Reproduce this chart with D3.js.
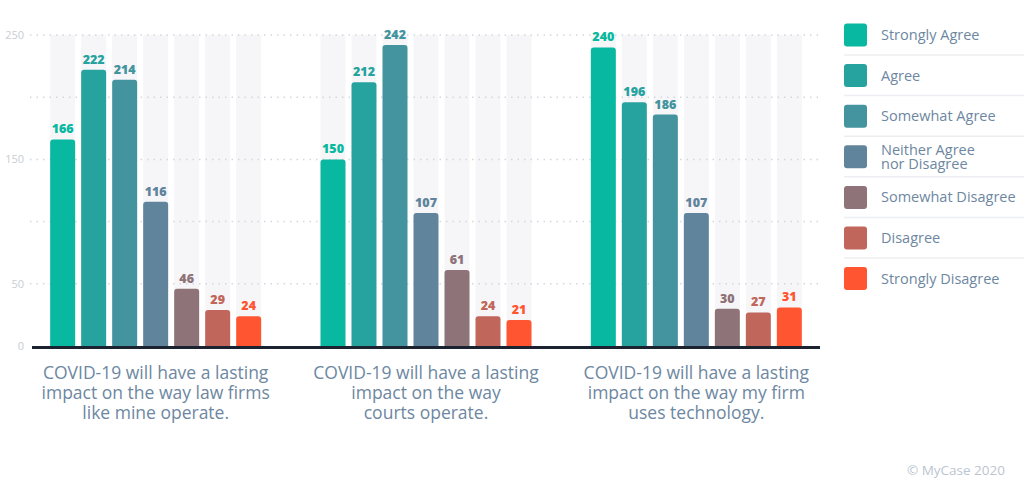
<!DOCTYPE html>
<html><head><meta charset="utf-8">
<script src="https://cdn.jsdelivr.net/npm/d3@7"></script>
<style>body{margin:0;background:#fff;} svg{display:block;}</style>
</head><body>
<svg id="c" width="1024" height="486"></svg>
<script>
const groups = [
  ["COVID-19 will have a lasting", "impact on the way law firms", "like mine operate."],
  ["COVID-19 will have a lasting", "impact on the way", "courts operate."],
  ["COVID-19 will have a lasting", "impact on the way my firm", "uses technology."]
];
const series = ["Strongly Agree","Agree","Somewhat Agree","Neither Agree nor Disagree","Somewhat Disagree","Disagree","Strongly Disagree"];
const legendLines = [["Strongly Agree"],["Agree"],["Somewhat Agree"],["Neither Agree","nor Disagree"],["Somewhat Disagree"],["Disagree"],["Strongly Disagree"]];
const valuesLawFirms = [166,222,214,116,46,29,24];
const valuesCourts = [150,212,242,107,61,24,21];
const valuesTech = [240,196,186,107,30,27,31];
const colors = ["#08b8a0","#27a39f","#43949e","#5f849c","#8e7378","#c0665a","#ff5530"];
const yTickLabels = [0,50,150,250];
const yGrid = [50,100,150,200,250];

const data = [valuesLawFirms, valuesCourts, valuesTech];
const svg = d3.select("#c");
const y = d3.scaleLinear().domain([0,250]).range([346,35]);
const x0 = d3.scaleBand().domain(d3.range(groups.length)).range([20.5,831.5]);
const x1 = d3.scaleBand().domain(series).range([0,211]).paddingInner(0.194).paddingOuter(0);
const off = (x0.bandwidth()-211)/2;
const color = d3.scaleOrdinal().domain(series).range(colors);

// stripes
groups.forEach((g,gi)=>{
  svg.append("g").selectAll("rect").data(series).join("rect")
    .attr("x", s=>x0(gi)+off+x1(s)).attr("width", x1.bandwidth())
    .attr("y", y(250)).attr("height", y(0)-y(250)).attr("fill","#f6f6f8");
});
// gridlines
svg.append("g").selectAll("line").data(yGrid).join("line")
  .attr("x1",30).attr("x2",820).attr("y1",d=>y(d)).attr("y2",d=>y(d))
  .attr("stroke","#d3d7dc").attr("stroke-width",1.5).attr("stroke-dasharray","1.5,5");
// y labels
svg.append("g").selectAll("text").data(yTickLabels).join("text")
  .attr("x",24).attr("y",d=>y(d)).attr("dy","0.35em").attr("text-anchor","end")
  .attr("font-family","Open Sans, sans-serif").attr("font-size",11).attr("fill","#c9cdd3").text(d=>d);

function barPath(x,yTop,w,h,r){
  r=Math.min(r,h);
  return `M${x},${yTop+h}V${yTop+r}Q${x},${yTop} ${x+r},${yTop}H${x+w-r}Q${x+w},${yTop} ${x+w},${yTop+r}V${yTop+h}Z`;
}
data.forEach((vals,gi)=>{
  const gg = svg.append("g");
  gg.selectAll("path").data(vals).join("path")
    .attr("d",(v,i)=>barPath(x0(gi)+off+x1(series[i]), y(v), x1.bandwidth(), y(0)-y(v), 3))
    .attr("fill",(v,i)=>color(series[i]));
  gg.selectAll("text").data(vals).join("text")
    .attr("x",(v,i)=>x0(gi)+off+x1(series[i])+x1.bandwidth()/2)
    .attr("y",v=>y(v)-6).attr("text-anchor","middle")
    .attr("font-family","Open Sans, sans-serif").attr("font-weight",800).attr("font-size",12.5)
    .attr("fill",(v,i)=>color(series[i])).text(v=>v);
  const t = svg.append("text").attr("text-anchor","middle")
    .attr("font-family","Open Sans, sans-serif").attr("font-size",17.5).attr("fill","#6d87a1");
  groups[gi].forEach((ln,li)=>{
    t.append("tspan").attr("x",x0(gi)+x0.bandwidth()/2).attr("y",379+li*20).text(ln);
  });
});
// baseline
svg.append("line").attr("x1",32).attr("x2",820).attr("y1",y(0)+1.5).attr("y2",y(0)+1.5)
  .attr("stroke","#1b2330").attr("stroke-width",3);

// legend
const lg = svg.append("g");
series.forEach((s,i)=>{
  const cy = 35 + i*40.6;
  lg.append("rect").attr("x",844).attr("y",cy-11.5).attr("width",23).attr("height",23).attr("rx",3)
    .attr("fill",color(s));
  const lines = legendLines[i];
  const t = lg.append("text").attr("font-family","Open Sans, sans-serif").attr("font-size",14.5).attr("fill","#6d87a1");
  lines.forEach((ln,li)=>{
    t.append("tspan").attr("x",881).attr("y",cy+5 + (li - (lines.length-1)/2)*14).text(ln);
  });
  if(i<series.length-1){
    lg.append("line").attr("x1",844).attr("x2",1024).attr("y1",cy+20).attr("y2",cy+20)
      .attr("stroke","#eceef1").attr("stroke-width",1.5);
  }
});
svg.append("text").attr("x",1005).attr("y",475).attr("text-anchor","end")
  .attr("font-family","Open Sans, sans-serif").attr("font-size",13.5).attr("fill","#bac5d0").text("© MyCase 2020");
</script>
</body></html>
